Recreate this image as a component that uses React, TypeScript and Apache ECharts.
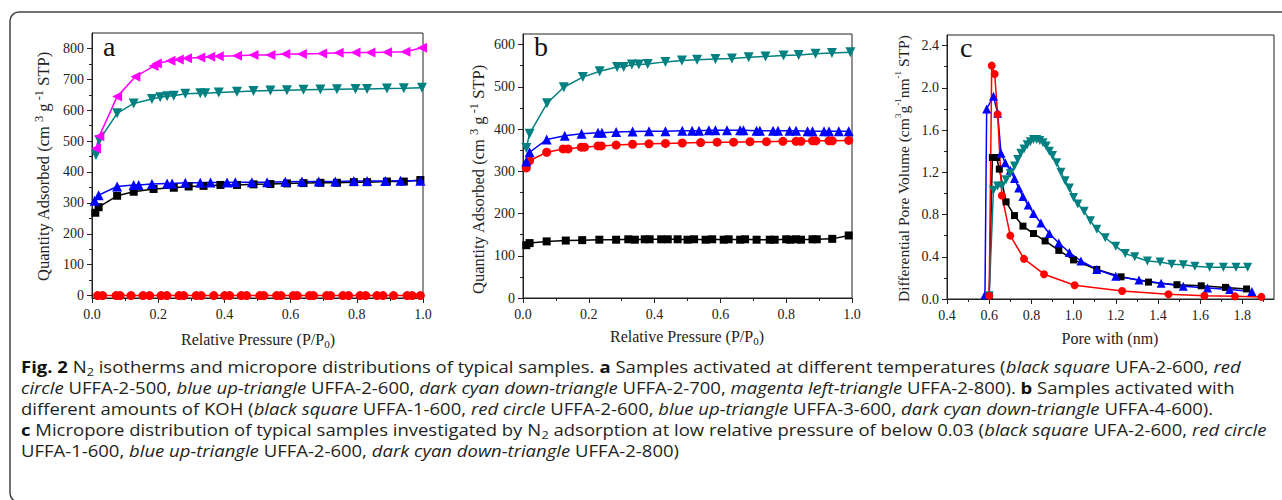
import React, { useEffect, useRef } from 'react';
import * as echarts from 'echarts';

// ---------- Panel a: isotherms, different temperatures ----------
const aBlackX = [0.01, 0.02, 0.076, 0.126, 0.186, 0.247, 0.292, 0.337, 0.388, 0.438, 0.488, 0.539, 0.589, 0.639, 0.69, 0.74, 0.791, 0.831, 0.891, 0.942, 0.992];
const aBlackY = [268, 286, 323, 336, 345, 349, 353, 355, 358, 358, 360, 361, 363, 364, 365, 365, 367, 367, 369, 369, 374];
const aRedX = [0.017, 0.032, 0.073, 0.085, 0.118, 0.154, 0.174, 0.209, 0.226, 0.263, 0.277, 0.315, 0.33, 0.368, 0.401, 0.416, 0.451, 0.467, 0.507, 0.519, 0.558, 0.571, 0.608, 0.62, 0.657, 0.669, 0.709, 0.721, 0.758, 0.775, 0.81, 0.827, 0.861, 0.879, 0.911, 0.952, 0.967, 0.992];
const aRedY = [0, 0, 0, 0, 0, 0, 0, 0, 0, 0, 0, 0, 0, 0, 0, 0, 0, 0, 0, 0, 0, 0, 0, 0, 0, 0, 0, 0, 0, 0, 0, 0, 0, 0, 0, 0, 0, 0];
const aBlueX = [0.008, 0.02, 0.076, 0.126, 0.141, 0.181, 0.227, 0.242, 0.282, 0.327, 0.358, 0.408, 0.433, 0.483, 0.529, 0.584, 0.634, 0.685, 0.735, 0.791, 0.831, 0.886, 0.932, 0.992];
const aBlueY = [307, 325, 353, 358, 358, 361, 363, 363, 365, 365, 366, 366, 367, 367, 367, 368, 369, 369, 369, 371, 371, 371, 372, 372];
const aTealX = [0.012, 0.022, 0.076, 0.126, 0.181, 0.206, 0.227, 0.247, 0.282, 0.327, 0.342, 0.383, 0.438, 0.488, 0.539, 0.589, 0.639, 0.69, 0.74, 0.796, 0.831, 0.891, 0.942, 0.997];
const aTealY = [455, 503, 590, 622, 636, 642, 645, 647, 653, 655, 655, 657, 660, 662, 664, 665, 666, 667, 668, 669, 669, 670, 671, 673];
const aMagX = [0.012, 0.022, 0.076, 0.131, 0.186, 0.196, 0.237, 0.262, 0.287, 0.327, 0.357, 0.383, 0.438, 0.488, 0.539, 0.584, 0.634, 0.695, 0.745, 0.796, 0.841, 0.891, 0.947, 0.997];
const aMagY = [476, 516, 644, 708, 743, 751, 760, 764, 768, 771, 773, 775, 776, 779, 779, 782, 782, 784, 786, 787, 787, 788, 789, 802];

// ---------- Panel b: isotherms, different KOH amounts ----------
const bBlackX = [0.01, 0.02, 0.072, 0.13, 0.18, 0.232, 0.283, 0.32, 0.34, 0.37, 0.385, 0.42, 0.44, 0.47, 0.5, 0.52, 0.555, 0.575, 0.61, 0.625, 0.66, 0.675, 0.71, 0.75, 0.765, 0.8, 0.812, 0.83, 0.845, 0.88, 0.893, 0.94, 0.99];
const bBlackY = [125, 130, 134, 136, 137, 138, 138, 139, 138, 139, 139, 139, 139, 139, 138, 139, 138, 139, 138, 139, 138, 139, 138, 138, 138, 139, 138, 139, 138, 139, 139, 140, 148];
const bRedX = [0.01, 0.02, 0.072, 0.122, 0.137, 0.177, 0.187, 0.228, 0.238, 0.283, 0.333, 0.383, 0.433, 0.484, 0.54, 0.59, 0.64, 0.69, 0.74, 0.79, 0.83, 0.845, 0.88, 0.89, 0.93, 0.94, 0.99];
const bRedY = [308, 325, 345, 353, 353, 357, 357, 360, 360, 362, 364, 365, 366, 367, 368, 369, 369, 370, 370, 371, 371, 371, 372, 372, 372, 372, 373];
const bBlueX = [0.01, 0.02, 0.072, 0.127, 0.178, 0.228, 0.24, 0.283, 0.333, 0.383, 0.433, 0.484, 0.514, 0.535, 0.565, 0.585, 0.62, 0.66, 0.67, 0.71, 0.72, 0.76, 0.775, 0.81, 0.83, 0.865, 0.88, 0.915, 0.93, 0.96, 0.99];
const bBlueY = [323, 345, 375, 384, 389, 391, 391, 393, 394, 395, 395, 396, 396, 396, 397, 397, 397, 397, 397, 396, 396, 396, 396, 396, 396, 395, 395, 395, 395, 395, 395];
const bTealX = [0.01, 0.02, 0.073, 0.124, 0.182, 0.233, 0.286, 0.306, 0.331, 0.352, 0.379, 0.433, 0.483, 0.529, 0.585, 0.635, 0.686, 0.737, 0.792, 0.838, 0.889, 0.939, 0.995];
const bTealY = [355, 389, 461, 499, 523, 537, 547, 547, 553, 553, 554, 559, 562, 564, 566, 567, 570, 572, 574, 575, 578, 580, 582];

// ---------- Panel c: micropore distribution ----------
const cBlackX = [0.6, 0.615, 0.635, 0.648, 0.68, 0.72, 0.76, 0.81, 0.865, 0.93, 1.0, 1.11, 1.225, 1.355, 1.49, 1.605, 1.72, 1.82];
const cBlackY = [0.03, 1.34, 1.34, 1.23, 0.92, 0.79, 0.69, 0.62, 0.55, 0.46, 0.37, 0.28, 0.21, 0.16, 0.135, 0.125, 0.11, 0.095];
const cRedX = [0.6, 0.612, 0.626, 0.64, 0.66, 0.7, 0.765, 0.86, 1.005, 1.23, 1.45, 1.62, 1.765, 1.89];
const cRedY = [0.03, 2.21, 2.13, 1.75, 0.98, 0.6, 0.38, 0.235, 0.13, 0.075, 0.045, 0.03, 0.025, 0.02];
const cBlueX = [0.58, 0.588, 0.62, 0.64, 0.656, 0.676, 0.7, 0.72, 0.74, 0.76, 0.785, 0.81, 0.845, 0.885, 0.93, 0.98, 1.035, 1.11, 1.2, 1.31, 1.415, 1.52, 1.635, 1.74, 1.845];
const cBlueY = [0.04, 1.8, 1.92, 1.76, 1.38, 1.29, 1.22, 1.14, 1.05, 0.97, 0.89, 0.81, 0.72, 0.62, 0.53, 0.44, 0.36, 0.28, 0.215, 0.18, 0.15, 0.12, 0.105, 0.09, 0.07];
const cTealX = [0.6, 0.62, 0.64, 0.66, 0.68, 0.7, 0.72, 0.735, 0.75, 0.765, 0.78, 0.795, 0.81, 0.825, 0.84, 0.855, 0.87, 0.885, 0.9, 0.92, 0.94, 0.96, 0.98, 1.0, 1.02, 1.05, 1.08, 1.11, 1.15, 1.2, 1.245, 1.29, 1.35, 1.41, 1.465, 1.52, 1.575, 1.645, 1.71, 1.77, 1.825];
const cTealY = [0.03, 1.03, 1.07, 1.07, 1.13, 1.19, 1.26, 1.32, 1.38, 1.42, 1.46, 1.49, 1.51, 1.51, 1.5, 1.48, 1.45, 1.4, 1.36, 1.29, 1.2, 1.12, 1.05, 0.96, 0.9, 0.83, 0.74, 0.66, 0.58, 0.5, 0.43, 0.4, 0.36, 0.35, 0.33, 0.325, 0.31, 0.3, 0.3, 0.3, 0.3];

// ---------- Tick values ----------
const pTicks = [0, 0.2, 0.4, 0.6, 0.8, 1.0];
const pMinor = [0.1, 0.3, 0.5, 0.7, 0.9];
const aYTicks = [0, 100, 200, 300, 400, 500, 600, 700, 800];
const aYMinor = [50, 150, 250, 350, 450, 550, 650, 750];
const bYTicks = [0, 100, 200, 300, 400, 500, 600];
const bYMinor = [50, 150, 250, 350, 450, 550];
const cXTicks = [0.4, 0.6, 0.8, 1.0, 1.2, 1.4, 1.6, 1.8];
const cXMinor = [0.5, 0.7, 0.9, 1.1, 1.3, 1.5, 1.7, 1.9];
const cYTicks = [0, 0.4, 0.8, 1.2, 1.6, 2.0, 2.4];
const cYMinor = [0.2, 0.6, 1.0, 1.4, 1.8, 2.2];

// ---------- Caption ----------
const captionLines = [
  '{b|Fig. 2} N{sub|2} isotherms and micropore distributions of typical samples. {b|a} Samples activated at different temperatures ({i|black square} UFA-2-600, {i|red}',
  '{i|circle} UFFA-2-500, {i|blue up-triangle} UFFA-2-600, {i|dark cyan down-triangle} UFFA-2-700, {i|magenta left-triangle} UFFA-2-800). {b|b} Samples activated with',
  'different amounts of KOH ({i|black square} UFFA-1-600, {i|red circle} UFFA-2-600, {i|blue up-triangle} UFFA-3-600, {i|dark cyan down-triangle} UFFA-4-600).',
  '{b|c} Micropore distribution of typical samples investigated by N{sub|2} adsorption at low relative pressure of below 0.03 ({i|black square} UFA-2-600, {i|red circle}',
  'UFFA-1-600, {i|blue up-triangle} UFFA-2-600, {i|dark cyan down-triangle} UFFA-2-800)',
];

const SERIF = 'Liberation Serif, Times New Roman, serif';
const SANS = 'Open Sans, Noto Sans, sans-serif';
const AX = '#222';

const zip = (xs: number[], ys: number[]) => xs.map((x, i) => [x, ys[i]]);

function axisPair(
  gridIndex: number, min: number, max: number, major: number[], minor: number[], digits: number,
) {
  const main = {
    type: 'value', gridIndex, min, max,
    axisLine: { show: true, onZero: false, lineStyle: { color: AX, width: 1 } },
    axisTick: { show: true, inside: false, length: 5, customValues: major, lineStyle: { color: AX, width: 1 } },
    axisLabel: {
      show: true, customValues: major, margin: 8,
      formatter: (v: number) => v.toFixed(digits),
      fontFamily: SERIF, fontSize: 14, color: AX,
    },
    splitLine: { show: false },
  };
  const mnr = {
    type: 'value', gridIndex, min, max,
    axisLine: { show: false, onZero: false },
    axisTick: { show: true, inside: false, length: 3, customValues: minor, lineStyle: { color: AX, width: 1 } },
    axisLabel: { show: false },
    splitLine: { show: false },
  };
  return [main, mnr];
}

function ser(data: number[][], color: string, symbol: string, size: number, rotate: number, ai: number) {
  return {
    type: 'line', data, xAxisIndex: ai, yAxisIndex: ai,
    symbol, symbolSize: size, symbolRotate: rotate, showAllSymbol: true,
    itemStyle: { color }, lineStyle: { color, width: 1.5 }, silent: true,
  };
}

export default function App() {
  const ref = useRef<HTMLDivElement>(null);
  useEffect(() => {
    const chart = echarts.init(ref.current!, null, { renderer: 'svg' });
    const grids = [
      { left: 92, top: 33, width: 331, height: 265 },
      { left: 523, top: 34, width: 329, height: 264 },
      { left: 947, top: 35, width: 327, height: 264 },
    ].map((g) => ({ ...g, show: true, borderColor: AX, borderWidth: 1, backgroundColor: 'transparent', containLabel: false }));

    const xAxis = [
      ...axisPair(0, 0, 1, pTicks, pMinor, 1),
      ...axisPair(1, 0, 1, pTicks, pMinor, 1),
      ...axisPair(2, 0.4, 1.95, cXTicks, cXMinor, 1),
    ].map((a) => ({ ...a, position: 'bottom' }));
    xAxis.forEach((a: any) => { if (a.axisLabel.show) a.axisLabel.margin = 9; });
    const yAxis = [
      ...axisPair(0, -8, 850, aYTicks, aYMinor, 0),
      ...axisPair(1, 0, 625, bYTicks, bYMinor, 0),
      ...axisPair(2, 0, 2.5, cYTicks, cYMinor, 1),
    ].map((a) => ({ ...a, position: 'left' }));

    const series = [
      ser(zip(aRedX, aRedY), '#ff0000', 'circle', 9, 0, 0),
      ser(zip(aBlackX, aBlackY), '#000000', 'rect', 8, 0, 0),
      ser(zip(aBlueX, aBlueY), '#0000ff', 'triangle', 10, 0, 0),
      ser(zip(aTealX, aTealY), '#008080', 'triangle', 10, 180, 0),
      ser(zip(aMagX, aMagY), '#ff00ff', 'triangle', 10, 90, 0),
      ser(zip(bBlackX, bBlackY), '#000000', 'rect', 8, 0, 2),
      ser(zip(bRedX, bRedY), '#ff0000', 'circle', 9, 0, 2),
      ser(zip(bBlueX, bBlueY), '#0000ff', 'triangle', 10, 0, 2),
      ser(zip(bTealX, bTealY), '#008080', 'triangle', 10, 180, 2),
      ser(zip(cBlackX, cBlackY), '#000000', 'rect', 7, 0, 4),
      ser(zip(cBlueX, cBlueY), '#0000ff', 'triangle', 9, 0, 4),
      ser(zip(cTealX, cTealY), '#008080', 'triangle', 9, 180, 4),
      ser(zip(cRedX, cRedY), '#ff0000', 'circle', 8, 0, 4),
    ];

    const mkRich = (small: number) => ({
      sup: { fontFamily: SERIF, fontSize: small, fill: AX, verticalAlign: 'top', lineHeight: small },
      sub: { fontFamily: SERIF, fontSize: small, fill: AX, verticalAlign: 'bottom', lineHeight: small },
    });
    const yTitle = (x: number, y: number, text: string, size: number, small: number) => ({
      type: 'text', x, y, rotation: Math.PI / 2,
      style: {
        text, fontFamily: SERIF, fontSize: size, fill: AX,
        align: 'left', verticalAlign: 'middle', lineHeight: size + 4, rich: mkRich(small),
      },
    });
    const xTitle = (x: number, y: number, text: string) => ({
      type: 'text', x, y,
      style: {
        text, fontFamily: SERIF, fontSize: 16, fill: AX,
        align: 'center', verticalAlign: 'middle', lineHeight: 20, rich: mkRich(11),
      },
    });
    const letter = (x: number, y: number, t: string) => ({
      type: 'text', x, y,
      style: { text: t, fontFamily: SERIF, fontSize: 28, fill: '#111', align: 'left', verticalAlign: 'middle' },
    });
    const capBase = { fontFamily: SANS, fontSize: 16, fill: '#231f20' };
    const capRich = {
      b: { ...capBase, fontWeight: 'bold', fill: '#111' },
      i: { ...capBase, fontStyle: 'italic' },
      sub: { ...capBase, fontSize: 11, verticalAlign: 'bottom', lineHeight: 11 },
    };
    const caption = captionLines.map((t, i) => ({
      type: 'text', x: 21, y: 367 + i * 21, scaleX: 1.156,
      style: { ...capBase, text: t, align: 'left', verticalAlign: 'middle', lineHeight: 19, rich: capRich },
    }));

    chart.setOption({
      animation: false,
      backgroundColor: '#ffffff',
      grid: grids,
      xAxis,
      yAxis,
      series,
      graphic: [
        {
          type: 'rect', shape: { x: 10, y: 12, width: 1300, height: 490, r: 9 },
          style: { fill: 'none', stroke: '#444', lineWidth: 1.5 }, silent: true,
        },
        letter(103, 46.5, 'a'),
        letter(534, 46.5, 'b'),
        letter(960, 47.5, 'c'),
        yTitle(43, 281, 'Quantity Adsorbed (cm{sup| 3} g{sup| -1} STP)', 16.5, 12.5),
        yTitle(478, 294, 'Quantity Adsorbed (cm{sup| 3} g{sup| -1} STP)', 16.5, 12.5),
        yTitle(903, 302, 'Differential Pore Volume (cm{sup|3}g{sup|-1}nm{sup|-1} STP)', 15.5, 9),
        xTitle(258, 339, 'Relative Pressure (P/P{sub|0})'),
        xTitle(687, 336, 'Relative Pressure (P/P{sub|0})'),
        xTitle(1110, 338, 'Pore with (nm)'),
        ...caption,
      ],
    });
    return () => chart.dispose();
  }, []);
  return (
    <div
      ref={ref}
      style={{ position: 'fixed', left: 0, top: 0, width: 1282, height: 500, background: '#fff' }}
    />
  );
}
